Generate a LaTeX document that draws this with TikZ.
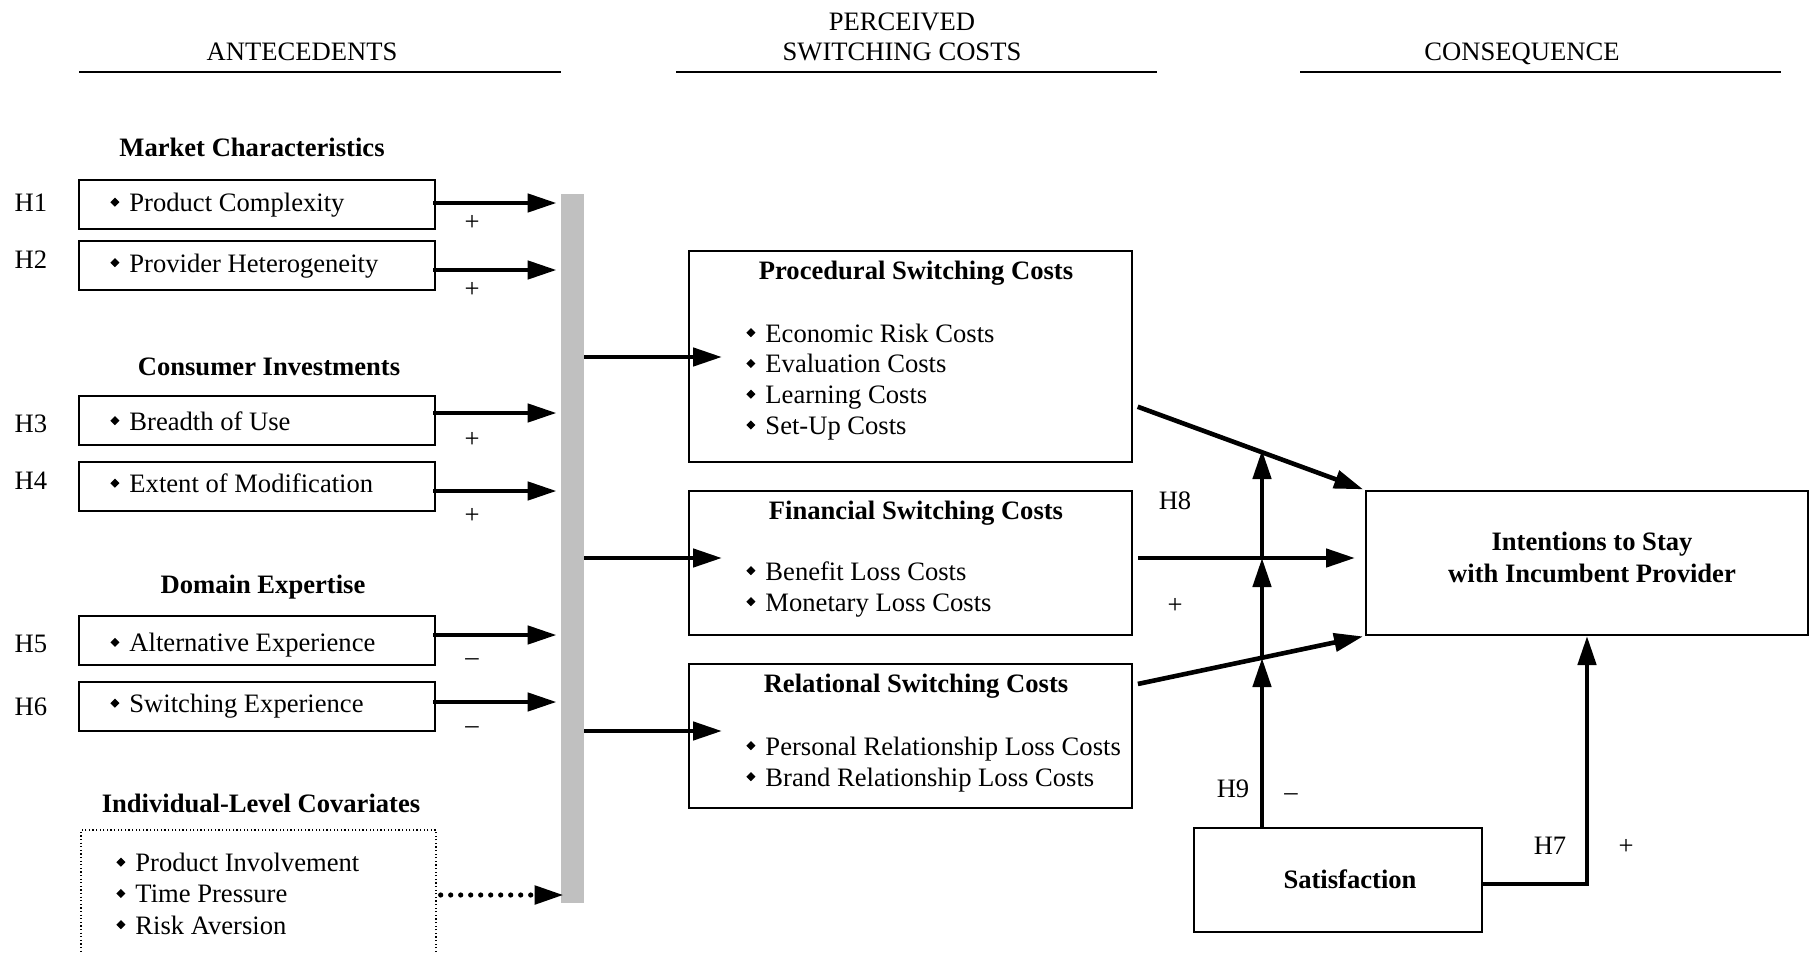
\documentclass[tikz,border=0pt]{standalone}
\usepackage{fontspec}
\usepackage{graphicx}
\setmainfont{Liberation Serif}
\usetikzlibrary{arrows.meta}
\definecolor{barg}{HTML}{C0C0C0}
\newcommand\fs{\fontsize{13.3}{15.6}\selectfont}
\newcommand\bul{\raisebox{2.4pt}{\rotatebox{45}{\rule{3.2pt}{3.2pt}}}\hspace{5pt}}
\tikzset{
  txt/.style={font=\fs, inner sep=0pt},
  item/.style={txt, anchor=base west},
  bold/.style={font=\fs\bfseries, inner sep=0pt},
  box/.style={draw, line width=1pt, inner sep=0pt},
  lbox/.style={box, minimum width=178pt, minimum height=24.5pt},
  mbox/.style={box, minimum width=221.5pt, minimum height=72pt},
  arr/.style={line width=2.3pt, -{Triangle[length=14.5pt,width=9pt]}},
  dotarr/.style={line width=2.6pt, dash pattern=on 0pt off 5pt, line cap=round, -{Triangle[length=14.5pt,width=9pt]}},
  hline/.style={line width=1.3pt},
}
\begin{document}
\begin{tikzpicture}[x=0.5pt,y=-0.5pt]
\useasboundingbox (0,0) rectangle (1820,953);

% headers
\node[txt, anchor=base] (hA) at (302,60) {ANTECEDENTS};
\node[txt, anchor=base] (hP1) at (902,30) {PERCEIVED};
\node[txt, anchor=base] (hP2) at (902,60) {SWITCHING COSTS};
\node[txt, anchor=base] (hC) at (1522,60) {CONSEQUENCE};
\draw[hline] (79,72) -- (561,72);
\draw[hline] (676,72) -- (1157,72);
\draw[hline] (1300,72) -- (1781,72);

% group headings
\node[bold] (gM) at (252,147) {Market Characteristics};
\node[bold] (gC) at (269,367) {Consumer Investments};
\node[bold] (gD) at (263,587) {Domain Expertise};
\node[bold] (gI) at (261,803) {Individual-Level Covariates};

% left boxes
\node[lbox] (h1) at (257,204.5) {};
\node[lbox] (h2) at (257,265.5) {};
\node[lbox] (h3) at (257,420.5) {};
\node[lbox] (h4) at (257,486.5) {};
\node[lbox] (h5) at (257,640.5) {};
\node[lbox] (h6) at (257,706.5) {};
\node[item] (t1) at (110,211.5) {\bul Product Complexity};
\node[item] (t2) at (110,272) {\bul Provider Heterogeneity};
\node[item] (t3) at (110,430) {\bul Breadth of Use};
\node[item] (t4) at (110,492.5) {\bul Extent of Modification};
\node[item] (t5) at (110,651.7) {\bul Alternative Experience};
\node[item] (t6) at (110,712.5) {\bul Switching Experience};

\node[box, dash pattern=on 0.6pt off 1.2pt, line width=0.7pt, minimum width=177.5pt, minimum height=72.5pt] (cov) at (258.5,902.5) {};
\node[item] (ct1) at (116,871.5) {\bul Product Involvement};
\node[item] (ct2) at (116,902.8) {\bul Time Pressure};
\node[item] (ct3) at (116,934) {\bul Risk Aversion};

% H labels
\node[txt] (l1) at (31,203) {H1};
\node[txt] (l2) at (31,260) {H2};
\node[txt] (l3) at (31,424) {H3};
\node[txt] (l4) at (31,481) {H4};
\node[txt] (l5) at (31,644) {H5};
\node[txt] (l6) at (31,707) {H6};

% gray bar
\node[fill=barg, inner sep=0pt, minimum width=11.5pt, minimum height=354.5pt] (bar) at (572.5,548.5) {};

% left arrows
\draw[arr, shorten <=-1.5pt, shorten >=2pt] (h1.east |- 0,203) -- (bar.west |- 0,203);
\draw[arr, shorten <=-1.5pt, shorten >=2pt] (h2.east |- 0,270) -- (bar.west |- 0,270);
\draw[arr, shorten <=-1.5pt, shorten >=2pt] (h3.east |- 0,413) -- (bar.west |- 0,413);
\draw[arr, shorten <=-1.5pt, shorten >=2pt] (h4.east |- 0,491) -- (bar.west |- 0,491);
\draw[arr, shorten <=-1.5pt, shorten >=2pt] (h5.east |- 0,635) -- (bar.west |- 0,635);
\draw[arr, shorten <=-1.5pt, shorten >=2pt] (h6.east |- 0,702) -- (bar.west |- 0,702);
\draw[dotarr, shorten <=2pt, shorten >=-1.5pt] (cov.east |- 0,895) -- (bar.west |- 0,895);

% signs
\node[txt] (s1) at (472,223) {+};
\node[txt] (s2) at (472,290) {+};
\node[txt] (s3) at (472,440) {+};
\node[txt] (s4) at (472,516) {+};
\node[txt] (s5) at (472,662) {–};
\node[txt] (s6) at (472,730) {–};

% middle boxes
\node[box, minimum width=221.5pt, minimum height=105.5pt] (proc) at (910.5,356.5) {};
\node[mbox] (fin) at (910.5,563) {};
\node[mbox] (rel) at (910.5,736) {};
\node[bold] (procT) at (916,273) {Procedural Switching Costs};
\node[bold] (finT) at (916,513) {Financial Switching Costs};
\node[bold] (relT) at (916,686.5) {Relational Switching Costs};
\node[item] (pi1) at (746,342) {\bul Economic Risk Costs};
\node[item] (pi2) at (746,372.8) {\bul Evaluation Costs};
\node[item] (pi3) at (746,403.5) {\bul Learning Costs};
\node[item] (pi4) at (746,434.3) {\bul Set-Up Costs};
\node[item] (fi1) at (746,580) {\bul Benefit Loss Costs};
\node[item] (fi2) at (746,611) {\bul Monetary Loss Costs};
\node[item] (ri1) at (746,755) {\bul Personal Relationship Loss Costs};
\node[item] (ri2) at (746,786) {\bul Brand Relationship Loss Costs};

% bar to middle arrows
\draw[arr, shorten >=-17pt] (bar.east |- 0,357) -- (proc.west |- 0,357);
\draw[arr, shorten >=-17pt] (bar.east |- 0,558) -- (fin.west |- 0,558);
\draw[arr, shorten >=-17pt] (bar.east |- 0,731) -- (rel.west |- 0,731);

% right boxes
\node[box, minimum width=221pt, minimum height=72pt] (int) at (1587,563) {};
\node[bold, align=center] (intT) at (1592,557.5) {Intentions to Stay\\with Incumbent Provider};
\node[box, minimum width=144pt, minimum height=52pt] (sat) at (1338,880) {};
\node[bold] (satT) at (1350,879) {Satisfaction};

% right arrows
\draw[arr, shorten <=2.5pt, shorten >=1pt] (proc.east |- 0,405) -- (int.north west);
\draw[arr, shorten <=2.5pt, shorten >=5pt] (fin.east |- 0,558) -- (int.west |- 0,558);
\draw[arr, shorten <=2.5pt, shorten >=1pt] (rel.east |- 0,685) -- (int.south west);

\coordinate (c1) at (1262,450);
\coordinate (c2) at (1262,558);
\coordinate (c3) at (1262,658);
\draw[arr] (sat.north -| c1) -- (c3);
\draw[arr] (c3) -- (c2);
\draw[arr] (c2) -- (c1);
\draw[arr] (sat.east |- 0,884) -| (int.south);

% right labels
\node[txt] (l8) at (1175,501) {H8};
\node[txt] (s8) at (1175,606) {+};
\node[txt] (l9) at (1233,789) {H9};
\node[txt] (s9) at (1291,797) {–};
\node[txt] (l7) at (1550,846) {H7};
\node[txt] (s7) at (1626,847) {+};
\end{tikzpicture}
\end{document}
